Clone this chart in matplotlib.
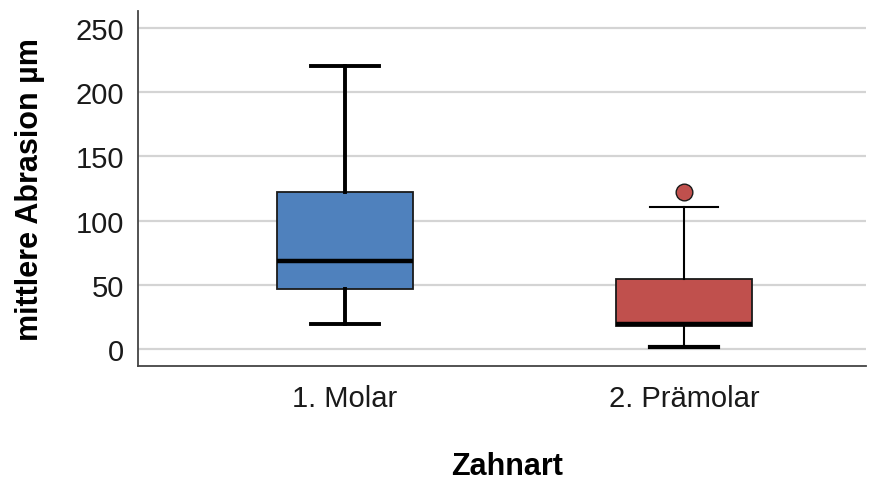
import matplotlib
matplotlib.use("Agg")
import matplotlib.pyplot as plt

plt.rcParams['font.family'] = ['Liberation Sans', 'DejaVu Sans']

categories = ["1. Molar", "2. Prämolar"]
whisker_low = [20, 1.5]
q1 = [46.5, 18]
median = [68.5, 20]
q3 = [122, 54.5]
whisker_high = [220, 111]
outliers = [[], [122]]
colors = ["#4F81BD", "#C0504D"]

stats = []
for i, name in enumerate(categories):
    stats.append({"label": name, "whislo": whisker_low[i], "q1": q1[i], "med": median[i],
                  "q3": q3[i], "whishi": whisker_high[i], "fliers": outliers[i]})

fig = plt.figure(figsize=(8.81, 4.81), dpi=100)
ax = fig.add_axes([138/881, 1-367/481, (866-138)/881, (367-12)/481])

ax.set_axisbelow(True)
ax.yaxis.grid(True, color="#d4d4d4", linewidth=1.6)

positions = [1, 2]
line_w = [2.8, 1.5]
for i in range(2):
    bp = ax.bxp([stats[i]], positions=[positions[i]], widths=0.40, capwidths=0.2,
                patch_artist=True, showfliers=True)
    bp['boxes'][0].set(facecolor=colors[i], edgecolor="#1a1a1a", linewidth=1.3)
    bp['medians'][0].set(color="black", linewidth=3.2)
    for w in bp['whiskers']:
        w.set(color="black", linewidth=line_w[i])
    for c in bp['caps']:
        c.set(color="black", linewidth=line_w[i])
    if i == 1:
        bp['caps'][0].set(linewidth=3.0)
    for f in bp['fliers']:
        f.set(marker="o", markerfacecolor=colors[i], markeredgecolor="#1a1a1a",
              markersize=12, markeredgewidth=1.0)

ax.set_xlim(0.389, 2.537)
ax.set_ylim(-13, 263)
ax.set_yticks([0, 50, 100, 150, 200, 250])
ax.set_xticks(positions)
ax.set_xticklabels(categories)
ax.tick_params(axis="both", length=0, labelsize=21, colors="#1a1a1a")
ax.tick_params(axis="y", pad=10)
ax.tick_params(axis="x", pad=13)

for s in ["top", "right"]:
    ax.spines[s].set_visible(False)
ax.spines["left"].set(color="#444444", linewidth=1.3)
ax.spines["bottom"].set(color="#444444", linewidth=1.3)

fig.text(30/881, 1-190/481, "mittlere Abrasion µm", fontsize=22, fontweight="bold",
         rotation=90, ha="center", va="center")
fig.text(507/881, 1-475/481, "Zahnart", fontsize=22, fontweight="bold",
         ha="center", va="baseline")

fig.savefig("out.png", dpi=100)
